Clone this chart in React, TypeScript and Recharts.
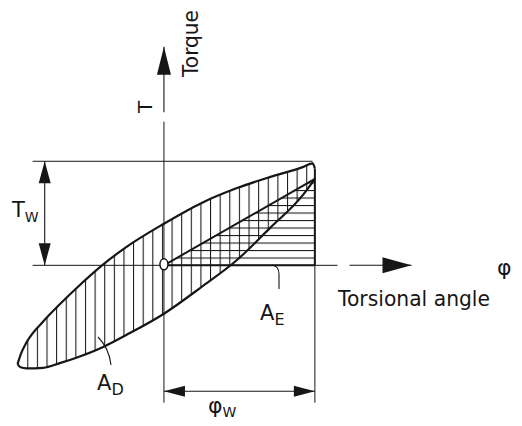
import React from "react";
import { ComposedChart, Area, XAxis, YAxis, ReferenceLine, ReferenceDot } from "recharts";

// Torsional hysteresis loop, normalised to phi / phi_w and T / T_w
const loopPhi = [-0.97, -0.95, -0.91, -0.8, -0.69, -0.58, -0.41, -0.25, 0, 0.25, 0.48, 0.7, 0.92, 0.985, 1.0];
const loopUpper = [-0.95, -0.86, -0.74, -0.54, -0.374, -0.22, 0, 0.175, 0.4, 0.6, 0.74, 0.848, 0.944, 0.98, 0.93];
const loopLower = [-0.95, -0.98, -0.99, -0.985, -0.94, -0.888, -0.79, -0.67, -0.465, -0.207, 0.046, 0.355, 0.675, 0.8, 0.83];

// Elastic energy triangle A_E
const elasticPhi = [0, 1];
const elasticTorque = [0, 0.83];

// Working point
const phiW = 1;
const torqueW = 1;

const loopData = loopPhi.map((phi, i) => ({ phi, band: [loopLower[i], loopUpper[i]] }));
const elasticData = elasticPhi.map((phi, i) => ({ phi, band: [0, elasticTorque[i]] }));

const INK = "#161616";
const FONT = "'DejaVu Sans', 'Liberation Sans', sans-serif";

// line with filled arrow heads (tip at the segment end points)
const arrowShape =
  (len: number, half: number, atStart: boolean, atEnd: boolean, width = 1.1) =>
  (props: any) => {
    const { x1, y1, x2, y2 } = props;
    const dx = x2 - x1;
    const dy = y2 - y1;
    const d = Math.hypot(dx, dy) || 1;
    const ux = dx / d;
    const uy = dy / d;
    const head = (tx: number, ty: number, sx: number, sy: number) => {
      const bx = tx - sx * len;
      const by = ty - sy * len;
      return `${tx},${ty} ${bx - sy * half},${by + sx * half} ${bx + sy * half},${by - sx * half}`;
    };
    return (
      <g>
        <line x1={x1} y1={y1} x2={x2} y2={y2} stroke={INK} strokeWidth={width} />
        {atEnd && <polygon points={head(x2, y2, ux, uy)} fill={INK} />}
        {atStart && <polygon points={head(x1, y1, -ux, -uy)} fill={INK} />}
      </g>
    );
  };

const thin = { stroke: INK, strokeWidth: 1, ifOverflow: "visible" as const };

export default function App() {
  return (
    <div style={{ width: 506, height: 410 }}>
      <style>{".recharts-surface{overflow:visible}"}</style>
      <svg width={0} height={0} style={{ position: "absolute" }}>
        <defs>
          <pattern id="hatchV" patternUnits="userSpaceOnUse" x={0} y={0} width={9.62} height={10}>
            <line x1={0.5} y1={0} x2={0.5} y2={10} stroke={INK} strokeWidth={1.1} />
          </pattern>
          <pattern id="hatchH" patternUnits="userSpaceOnUse" x={0} y={2} width={10} height={7.5}>
            <line x1={0} y1={0.5} x2={10} y2={0.5} stroke={INK} strokeWidth={1.1} />
          </pattern>
        </defs>
      </svg>
      <ComposedChart width={506} height={410} margin={{ top: 18, right: 18, bottom: 7, left: 5 }}>
        <XAxis type="number" dataKey="phi" domain={[-1, 2.2]} hide allowDataOverflow />
        <YAxis type="number" domain={[-1.4, 2.3]} hide allowDataOverflow />

        {/* dissipated energy A_D */}
        <Area
          data={loopData}
          dataKey="band"
          type="monotone"
          stroke={INK}
          strokeWidth={2.2}
          fill="url(#hatchV)"
          fillOpacity={1}
          dot={false}
          activeDot={false}
          isAnimationActive={false}
        />
        {/* elastic energy A_E */}
        <Area
          data={elasticData}
          dataKey="band"
          type="linear"
          stroke={INK}
          strokeWidth={2}
          fill="url(#hatchH)"
          fillOpacity={1}
          dot={false}
          activeDot={false}
          isAnimationActive={false}
        />

        {/* axes */}
        <ReferenceLine {...thin} segment={[{ x: -0.87, y: 0 }, { x: 1.15, y: 0 }]} />
        <ReferenceLine
          ifOverflow="visible"
          segment={[{ x: 1.23, y: 0 }, { x: 1.64, y: 0 }]}
          shape={arrowShape(29, 8, false, true)}
        />
        <ReferenceLine {...thin} segment={[{ x: 0, y: -1.32 }, { x: 0, y: 1.38 }]} />
        <ReferenceLine
          ifOverflow="visible"
          segment={[{ x: 0, y: 1.47 }, { x: 0, y: 2.1 }]}
          shape={arrowShape(28, 7, false, true)}
        />

        {/* extension lines */}
        <ReferenceLine {...thin} segment={[{ x: -0.87, y: torqueW }, { x: 0.985, y: torqueW }]} />
        <ReferenceLine {...thin} segment={[{ x: phiW, y: 0 }, { x: phiW, y: -1.32 }]} />
        <ReferenceLine
          ifOverflow="visible"
          stroke={INK}
          strokeWidth={2}
          segment={[{ x: phiW, y: 0 }, { x: phiW, y: 0.93 }]}
        />

        {/* dimensions T_w and phi_w */}
        <ReferenceLine
          ifOverflow="visible"
          segment={[{ x: -0.79, y: 0 }, { x: -0.79, y: torqueW }]}
          shape={arrowShape(22, 6, true, true)}
        />
        <ReferenceLine
          ifOverflow="visible"
          segment={[{ x: 0, y: -1.21 }, { x: phiW, y: -1.21 }]}
          shape={arrowShape(21, 5.5, true, true)}
        />

        <ReferenceDot
          x={0}
          y={0}
          ifOverflow="visible"
          shape={(p: any) => (
            <ellipse cx={p.cx} cy={p.cy - 1} rx={4} ry={5.5} fill="#fff" stroke={INK} strokeWidth={1.5} />
          )}
        />

        {/* labels */}
        <g fontFamily={FONT} fill={INK} stroke="none">
          <text
            x={190}
            y={69}
            fontSize={21}
            textLength={67}
            lengthAdjust="spacingAndGlyphs"
            transform="rotate(-90 190 69)"
          >
            Torque
          </text>
          <text x={144} y={99} fontSize={20} textAnchor="middle" transform="rotate(-90 144 99)">
            T
          </text>
          <text x={4} y={209} fontSize={21}>
            T
            <tspan fontSize={14} dy={5}>
              W
            </tspan>
          </text>
          <text x={489} y={267} fontSize={22}>
            φ
          </text>
          <text x={330} y={298} fontSize={21} textLength={152} lengthAdjust="spacingAndGlyphs">
            Torsional angle
          </text>
          <text x={252} y={312} fontSize={21}>
            A
            <tspan fontSize={16} dy={5}>
              E
            </tspan>
          </text>
          <text x={89} y={382} fontSize={21}>
            A
            <tspan fontSize={16} dy={5}>
              D
            </tspan>
          </text>
          <text x={200} y={405} fontSize={22}>
            φ
            <tspan fontSize={14} dy={4}>
              W
            </tspan>
          </text>
        </g>
        {/* leaders */}
        <path d="M264 257 Q271 258 271 266 L271 281" fill="none" stroke={INK} strokeWidth={1.1} />
        <path d="M90 329 Q101 340 103 357" fill="none" stroke={INK} strokeWidth={1.1} />
      </ComposedChart>
    </div>
  );
}
